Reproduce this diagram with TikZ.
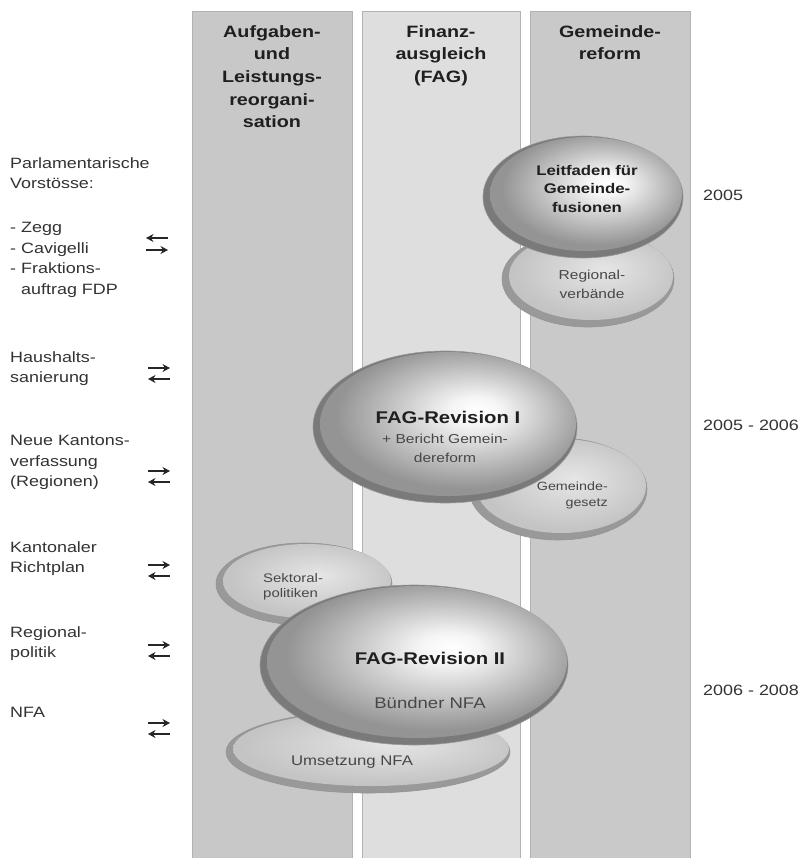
\documentclass[tikz,border=0pt]{standalone}
\usepackage{fontspec}
\setmainfont{Liberation Sans}[FakeStretch=1.2]
\usetikzlibrary{arrows.meta}
\definecolor{ballwhite}{gray}{1}
\definecolor{ballmid}{gray}{0.96}
\definecolor{ballout}{gray}{0.58}
\definecolor{subin}{gray}{0.90}
\definecolor{subout}{gray}{0.77}
\definecolor{rimmain}{gray}{0.48}
\definecolor{rimsub}{gray}{0.60}
\definecolor{colA}{gray}{0.785}
\definecolor{colB}{gray}{0.87}
\definecolor{colC}{gray}{0.79}
\pgfdeclareradialshading{mainball}{\pgfpoint{6bp}{5bp}}{color(0bp)=(ballwhite); color(5bp)=(ballmid); color(25bp)=(ballout); color(50bp)=(ballout)}
\pgfdeclareradialshading{subball}{\pgfpoint{4bp}{4bp}}{color(0bp)=(subin); color(25bp)=(subout); color(50bp)=(subout)}
\tikzset{
  colbox/.style={draw=black!30, line width=0.8bp},
  hdr/.style={font=\bfseries\fontsize{16.5}{22.8}\selectfont, align=center, text=black!88, inner sep=0, anchor=north},
  lbl/.style={font=\fontsize{15}{20.7}\selectfont, align=left, anchor=north west, inner sep=0, text=black!80},
  yr/.style={font=\fontsize{15}{18}\selectfont, anchor=west, inner sep=0, text=black!80},
  ttl/.style={font=\bfseries\fontsize{17}{20}\selectfont, text=black!88, inner sep=0},
  subt/.style={font=\fontsize{13}{19}\selectfont, align=center, text=black!72, inner sep=0},
  arr/.style={-{Stealth[length=7.5bp,width=8bp]}, line width=2bp, draw=black!85},
  rimM/.style={fill=rimmain, draw=black!40, line width=0.6bp},
  rimS/.style={fill=rimsub, draw=black!42, line width=0.6bp},
}
\begin{document}
\begin{tikzpicture}[x=1bp,y=-1bp]
\useasboundingbox (0,0) rectangle (805,858);
\fill[white] (0,0) rectangle (805,858);
% columns
\fill[colA,colbox] (192,11) rectangle (352,858);
\fill[colB,colbox] (362,11) rectangle (520,858);
\fill[colC,colbox] (530,11) rectangle (690,858);
% headers
\node[hdr] (h1) at (272,25) {Aufgaben-\\und\\Leistungs-\\reorgani-\\sation};
\node[hdr] (h2) at (441,25) {Finanz-\\ausgleich\\(FAG)};
\node[hdr] (h3) at (610,25) {Gemeinde-\\reform};
% secondary ellipses (behind)
\fill[rimS] (588,279) ellipse [x radius=86, y radius=48];
\shade[shading=subball] (591,276) ellipse [x radius=82, y radius=44];
\fill[rimS] (558,489) ellipse [x radius=89, y radius=51];
\shade[shading=subball] (561,486) ellipse [x radius=85, y radius=47];
\fill[rimS] (304,584) ellipse [x radius=88, y radius=41];
\shade[shading=subball] (307,581) ellipse [x radius=84, y radius=37];
\fill[rimS] (368,752) ellipse [x radius=142, y radius=41];
\shade[shading=subball] (371,749) ellipse [x radius=138, y radius=37];
% main ellipses
\fill[rimM] (583,197) ellipse [x radius=100, y radius=61];
\shade[shading=mainball] (586,194) ellipse [x radius=96, y radius=57];
\fill[rimM] (445,427) ellipse [x radius=132, y radius=76];
\shade[shading=mainball] (448,424) ellipse [x radius=128, y radius=72];
\fill[rimM] (414,665) ellipse [x radius=154, y radius=80];
\shade[shading=mainball] (417,662) ellipse [x radius=150, y radius=76];
% ellipse texts
\node[font=\bfseries\fontsize{14}{19}\selectfont, align=center, text=black!88, inner sep=0] (leit) at (587,189) {Leitfaden für\\Gemeinde-\\fusionen};
\node[subt] (regv) at (592,284) {Regional-\\verbände};
\node[ttl] (fag1) at (448,417) {FAG-Revision I};
\node[subt] (ber) at (445,448) {+ Bericht Gemein-\\dereform};
\node[subt, font=\fontsize{12}{16}\selectfont, align=right, anchor=east] (ggz) at (608,495) {Gemeinde-\\gesetz};
\node[subt, font=\fontsize{12.5}{15.5}\selectfont, align=left, anchor=west] (sekt) at (263,587) {Sektoral-\\politiken};
\node[ttl] (fag2) at (430,658) {FAG-Revision II};
\node[subt, font=\fontsize{15.5}{19}\selectfont] (bnfa) at (430,703) {Bündner NFA};
\node[subt, font=\fontsize{14}{18}\selectfont] (ums) at (352,762) {Umsetzung NFA};
% left labels
\node[lbl] (parl) at (10,157) {Parlamentarische\\Vorstösse:};
\node[lbl] (zegg) at (10,222) {- Zegg\\- Cavigelli\\- Fraktions-\\\phantom{- }auftrag FDP};
\node[lbl] (haus) at (10,351) {Haushalts-\\sanierung};
\node[lbl] (kv) at (10,435) {Neue Kantons-\\verfassung\\(Regionen)};
\node[lbl] (rp) at (10,541) {Kantonaler\\Richtplan};
\node[lbl] (rpol) at (10,626) {Regional-\\politik};
\node[lbl] (nfa) at (10,707) {NFA};
% arrows
\draw[arr] (168,238) -- (146,238);
\draw[arr] (146,250) -- (168,250);
\foreach \yy in {368,471,565,645,723}{
  \draw[arr] (148,\yy) -- (170,\yy);
  \draw[arr] (170,\yy+11) -- (148,\yy+11);
}
% years
\node[yr] (y1) at (703,195) {2005};
\node[yr] (y2) at (703,425) {2005 - 2006};
\node[yr] (y3) at (703,690) {2006 - 2008};
\end{tikzpicture}
\end{document}
